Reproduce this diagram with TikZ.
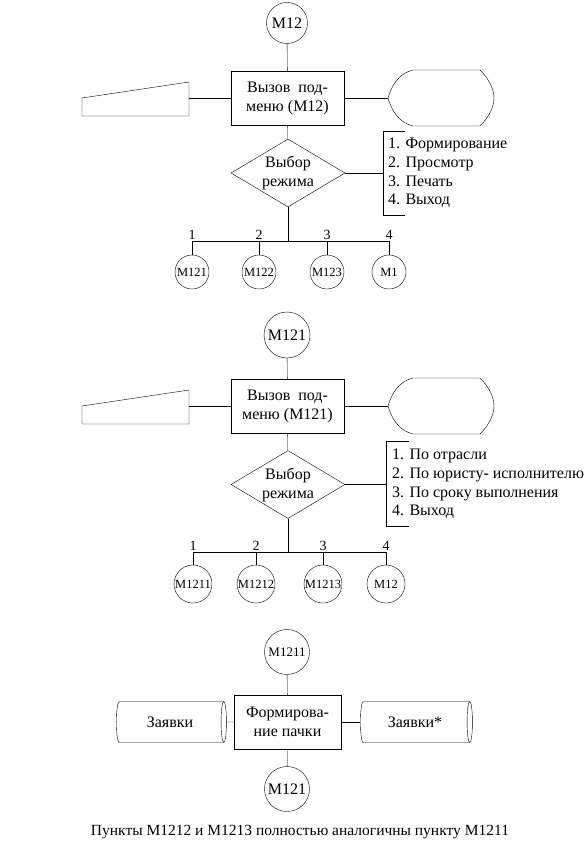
\documentclass[tikz,border=0pt]{standalone}
\usepackage{fontspec}
\setmainfont{Liberation Serif}
\usetikzlibrary{shapes.geometric}
\tikzset{
  every node/.style={font=\fontsize{16}{19}\selectfont},
  proc/.style={draw, minimum width=113pt, minimum height=54pt, align=center, inner sep=0pt},
  choice/.style={draw, diamond, aspect=1.68, minimum width=114pt, minimum height=68pt, inner sep=0pt, align=center},
  bigcirc/.style={draw, circle, minimum size=41pt, inner xsep=-8pt, inner ysep=0pt},
  smallcirc/.style={draw, circle, minimum size=34pt, inner xsep=-8pt, inner ysep=0pt, font=\fontsize{12.5}{14}\selectfont},
  menu/.style={align=left, anchor=west, inner sep=0pt, font=\fontsize{16}{18.7}\selectfont},
  store/.style={draw, cylinder, aspect=0.5, minimum height=110pt, minimum width=41pt, inner sep=0pt},
  num/.style={above, inner sep=1pt, font=\fontsize{14}{16}\selectfont},
  keyin/.pic={\draw (-107,0) -- (-107,18) -- (0,18) -- (0,-16) -- cycle;},
  dispout/.pic={\draw (0,0) .. controls (4,-14) and (12,-25) .. (25,-28) -- (92,-28)
     .. controls (102,-18) and (106,-8) .. (106,0) .. controls (106,8) and (102,18) .. (92,28)
     -- (25,28) .. controls (12,25) and (4,14) .. (0,0) -- cycle;}
}
\begin{document}
\begin{tikzpicture}[x=1pt,y=-1pt]
\useasboundingbox (0,0) rectangle (585,848);
% menu M12
\node[bigcirc] (m12) at (287,23) {М12};
\node[proc] (call1) at (287.5,98) {Вызов\ \ под-\\меню (М12)};
\node[choice] (sel1) at (288,173) {Выбор\\режима};
\coordinate (kb1) at (189,98); \pic at (kb1) {keyin};
\coordinate (dsp1) at (388,98); \pic at (dsp1) {dispout};
\draw (m12) -- (call1); \draw (call1) -- (kb1); \draw (call1) -- (dsp1);
\draw (call1) -- (sel1);
\coordinate (br1) at (383,173);
\draw (405,131) -| (383,215) -- (405,215);
\draw (sel1) -- (br1);
\node[menu] (list1) at (388,173) {1. Формирование\\2. Просмотр\\3. Печать\\4. Выход};
\coordinate (bus1) at (288,241);
\draw (sel1) -- (bus1);
\foreach \n/\x/\t in {1/192/М121,2/259/М122,3/327/М123,4/389/М1} {
  \node[smallcirc] (c1\n) at (\x,272) {\t};
  \draw (c1\n |- bus1) node[num] {\n} -- (c1\n);
}
\draw (c11 |- bus1) -- (c14 |- bus1);
% menu M121
\node[bigcirc, minimum size=46pt] (m121) at (287,335) {М121};
\node[proc] (call2) at (287.5,406) {Вызов\ \ под-\\меню (М121)};
\node[choice] (sel2) at (288,484.5) {Выбор\\режима};
\coordinate (kb2) at (189,406); \pic at (kb2) {keyin};
\coordinate (dsp2) at (388,406); \pic at (dsp2) {dispout};
\draw (m121) -- (call2); \draw (call2) -- (kb2); \draw (call2) -- (dsp2);
\draw (call2) -- (sel2);
\coordinate (br2) at (386,484.5);
\draw (409,441) -| (386,526) -- (409,526);
\draw (sel2) -- (br2);
\node[menu] (list2) at (392,484) {1. По отрасли\\2. По юристу- исполнителю\\3. По сроку выполнения\\4. Выход};
\coordinate (bus2) at (288,552);
\draw (sel2) -- (bus2);
\foreach \n/\x/\t in {1/193/М1211,2/256/М1212,3/323/М1213,4/386/М12} {
  \node[smallcirc, minimum size=38pt] (c2\n) at (\x,584) {\t};
  \draw (c2\n |- bus2) node[num] {\n} -- (c2\n);
}
\draw (c21 |- bus2) -- (c24 |- bus2);
% item M1211
\node[bigcirc, minimum size=45pt, font=\fontsize{13}{15}\selectfont] (m1211) at (287,652) {М1211};
\node[proc, minimum width=107pt] (form) at (287.5,722) {Формирова-\\ние пачки};
\node[store] (req) at (170,722) {Заявки};
\node[store, minimum height=112pt] (req2) at (415,722) {Заявки*};
\node[bigcirc, minimum size=45pt] (m121b) at (287,789) {М121};
\draw (m1211) -- (form); \draw (form) -- (m121b);
\draw (req) -- (form); \draw (form) -- (req2);
\node[font=\fontsize{15.5}{18}\selectfont] (note) at (300,832) {Пункты М1212 и М1213 полностью аналогичны пункту М1211};
\end{tikzpicture}
\end{document}
